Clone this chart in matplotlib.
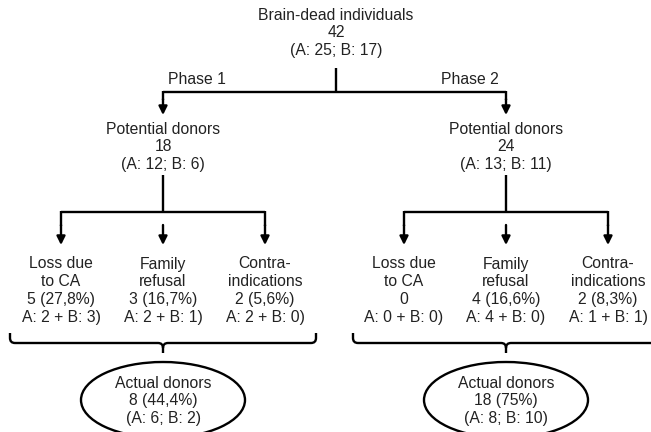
import matplotlib.pyplot as plt
from matplotlib.patches import Ellipse, PathPatch
from matplotlib.path import Path

plt.rcParams['font.family'] = ['Liberation Sans', 'DejaVu Sans']

# data
total = 42
total_ab = (25, 17)
phases = ["Phase 1", "Phase 2"]
potential = [18, 24]
potential_ab = [(12, 6), (13, 11)]
reasons = [["Loss due", "to CA"], ["Family", "refusal"], ["Contra-", "indications"]]
loss_counts = [[5, 3, 2], [0, 4, 2]]
loss_pct = [["27,8%", "16,7%", "5,6%"], [None, "16,6%", "8,3%"]]
loss_a = [[2, 2, 2], [0, 4, 1]]
loss_b = [[3, 1, 0], [0, 0, 1]]
actual = [8, 18]
actual_pct = ["44,4%", "75%"]
actual_ab = [(6, 2), (8, 10)]

# layout (pixel coordinates)
W, H = 651, 432
top_x = 336
phase_x = [163, 506]
branch_dx = 102
brace_half = 153
fs = 11.3
lw = 1.7
pitch = 17.8
txt_col = "#222222"

fig = plt.figure(figsize=(W / 100, H / 100), dpi=100)
ax = fig.add_axes([0, 0, 1, 1])
ax.set_xlim(0, W)
ax.set_ylim(H, 0)
ax.axis("off")


def lines(x, y0, items):
    for i, s in enumerate(items):
        ax.text(x, y0 + i * pitch, s, ha="center", va="center",
                fontsize=fs, color=txt_col)


def arrow(x, y0, y1):
    ax.annotate("", xy=(x, y1), xytext=(x, y0),
                arrowprops=dict(arrowstyle="-|>,head_length=0.5,head_width=0.25",
                                lw=lw, color="black", shrinkA=0, shrinkB=0,
                                mutation_scale=10))


def seg(xs, ys):
    ax.plot(xs, ys, color="black", lw=lw, solid_capstyle="butt",
            solid_joinstyle="miter")


lines(top_x, 15, ["Brain-dead individuals", str(total),
                  "(A: %d; B: %d)" % total_ab])
seg([top_x, top_x], [68, 92])
seg([phase_x[0], phase_x[1]], [92, 92])
ax.text(phase_x[0] + 5, 80, phases[0], ha="left", va="center",
        fontsize=fs, color=txt_col)
ax.text(phase_x[1] - 7, 80, phases[1], ha="right", va="center",
        fontsize=fs, color=txt_col)

for p, cx in enumerate(phase_x):
    seg([cx, cx], [91.2, 100])
    arrow(cx, 99, 115)
    lines(cx, 129, ["Potential donors", str(potential[p]),
                    "(A: %d; B: %d)" % potential_ab[p]])
    seg([cx, cx], [175, 212])
    seg([cx - branch_dx, cx + branch_dx], [212, 212])
    for k in range(3):
        bx = cx + (k - 1) * branch_dx
        if k != 1:
            seg([bx, bx], [211.2, 226])
        arrow(bx, 225, 245)
        n = loss_counts[p][k]
        cnt = str(n) if loss_pct[p][k] is None else "%d (%s)" % (n, loss_pct[p][k])
        lines(bx, 264, reasons[k] + [cnt,
              "A: %d + B: %d)" % (loss_a[p][k], loss_b[p][k])])

    # brace
    hw = brace_half
    r = 5
    verts = [(cx - hw, 333), (cx - hw, 343 - r), (cx - hw, 343), (cx - hw + r, 343),
             (cx - r, 343), (cx, 343), (cx, 348), (cx, 353),
             (cx, 348), (cx, 343), (cx + r, 343),
             (cx + hw - r, 343), (cx + hw, 343), (cx + hw, 343 - r), (cx + hw, 333)]
    codes = [Path.MOVETO, Path.LINETO, Path.CURVE3, Path.CURVE3,
             Path.LINETO, Path.CURVE3, Path.CURVE3, Path.LINETO,
             Path.MOVETO, Path.CURVE3, Path.CURVE3,
             Path.LINETO, Path.CURVE3, Path.CURVE3, Path.LINETO]
    ax.add_patch(PathPatch(Path(verts, codes), fill=False, lw=lw, color="black"))

    ax.add_patch(Ellipse((cx, 400), 164, 76, fill=False, lw=lw, color="black"))
    lines(cx, 383, ["Actual donors", "%d (%s)" % (actual[p], actual_pct[p]),
                    "(A: %d; B: %d)" % actual_ab[p]])

fig.savefig("out.png", dpi=100)
